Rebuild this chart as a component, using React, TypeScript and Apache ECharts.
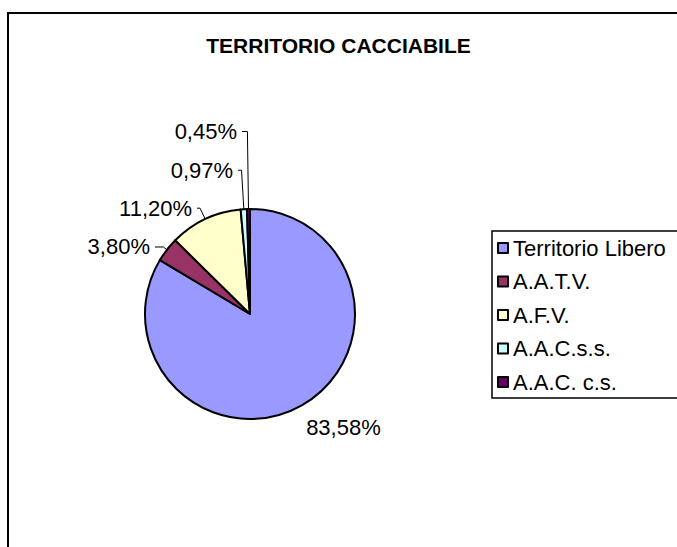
import React, { useEffect, useRef } from 'react';
import * as echarts from 'echarts';

const chartTitle = 'TERRITORIO CACCIABILE';
const categories = ['Territorio Libero', 'A.A.T.V.', 'A.F.V.', 'A.A.C.s.s.', 'A.A.C. c.s.'];
const shares = [83.58, 3.8, 11.2, 0.97, 0.45];

const colors = ['#9999FF', '#993366', '#FFFFCC', '#CCFFFF', '#660066'];
// leader-line geometry per slice (style only)
const leaders = [
  { length: 25, length2: 0, show: false, dist: -8 },
  { length: 4.5, length2: 8.4, show: true, dist: 5 },
  { length: 12, length2: 3, show: true, dist: 5 },
  { length: 39, length2: 3.5, show: true, dist: 5 },
  { length: 77.5, length2: 5.4, show: true, dist: 5 },
];

const FONT = '"Liberation Sans", Arial, Helvetica, sans-serif';

const fmt = (v: number) => v.toFixed(2).replace('.', ',') + '%';

export default function App() {
  const ref = useRef<HTMLDivElement>(null);
  useEffect(() => {
    if (!ref.current) return;
    const chart = echarts.init(ref.current, null, { renderer: 'svg' });
    chart.setOption({
      animation: false,
      backgroundColor: '#ffffff',
      title: {
        text: chartTitle,
        left: 'center',
        top: 35,
        padding: 0,
        textStyle: { fontFamily: FONT, fontSize: 21, fontWeight: 'bold', color: '#000' },
      },
      legend: {
        orient: 'vertical',
        left: 497,
        top: 237,
        padding: 0,
        itemWidth: 10,
        itemHeight: 10,
        itemGap: 11.5,
        icon: 'rect',
        selectedMode: false,
        textStyle: { fontFamily: FONT, fontSize: 22, color: '#000' },
        data: categories,
      },
      graphic: [
        {
          type: 'polyline',
          shape: { points: [[8, 560], [8, 13], [690, 13]] },
          style: { stroke: '#000', lineWidth: 2, fill: 'none' },
          silent: true,
        },
        {
          type: 'rect',
          shape: { x: 492, y: 231, width: 220, height: 167 },
          style: { stroke: '#000', lineWidth: 1.5, fill: 'none' },
          silent: true,
        },
      ],
      series: [
        {
          type: 'pie',
          center: [250, 314],
          radius: 105,
          startAngle: 90,
          clockwise: true,
          avoidLabelOverlap: false,
          minAngle: 0,
          itemStyle: { borderColor: '#000', borderWidth: 2 },
          emphasis: { disabled: true },
          label: {
            show: true,
            position: 'outside',
            fontFamily: FONT,
            fontSize: 22,
            color: '#000',
            formatter: (p: any) => fmt(p.value),
          },
          labelLine: { lineStyle: { color: '#000', width: 1 } },
          data: categories.map((name, i) => ({
            name,
            value: shares[i],
            itemStyle: { color: colors[i] },
            label: { distanceToLabelLine: leaders[i].dist },
            labelLine: {
              show: leaders[i].show,
              length: leaders[i].length,
              length2: leaders[i].length2,
              smooth: false,
            },
          })),
        },
      ],
    });
    return () => chart.dispose();
  }, []);
  return (
    <div
      ref={ref}
      style={{ position: 'fixed', left: 0, top: 0, width: 677, height: 547 }}
    />
  );
}
